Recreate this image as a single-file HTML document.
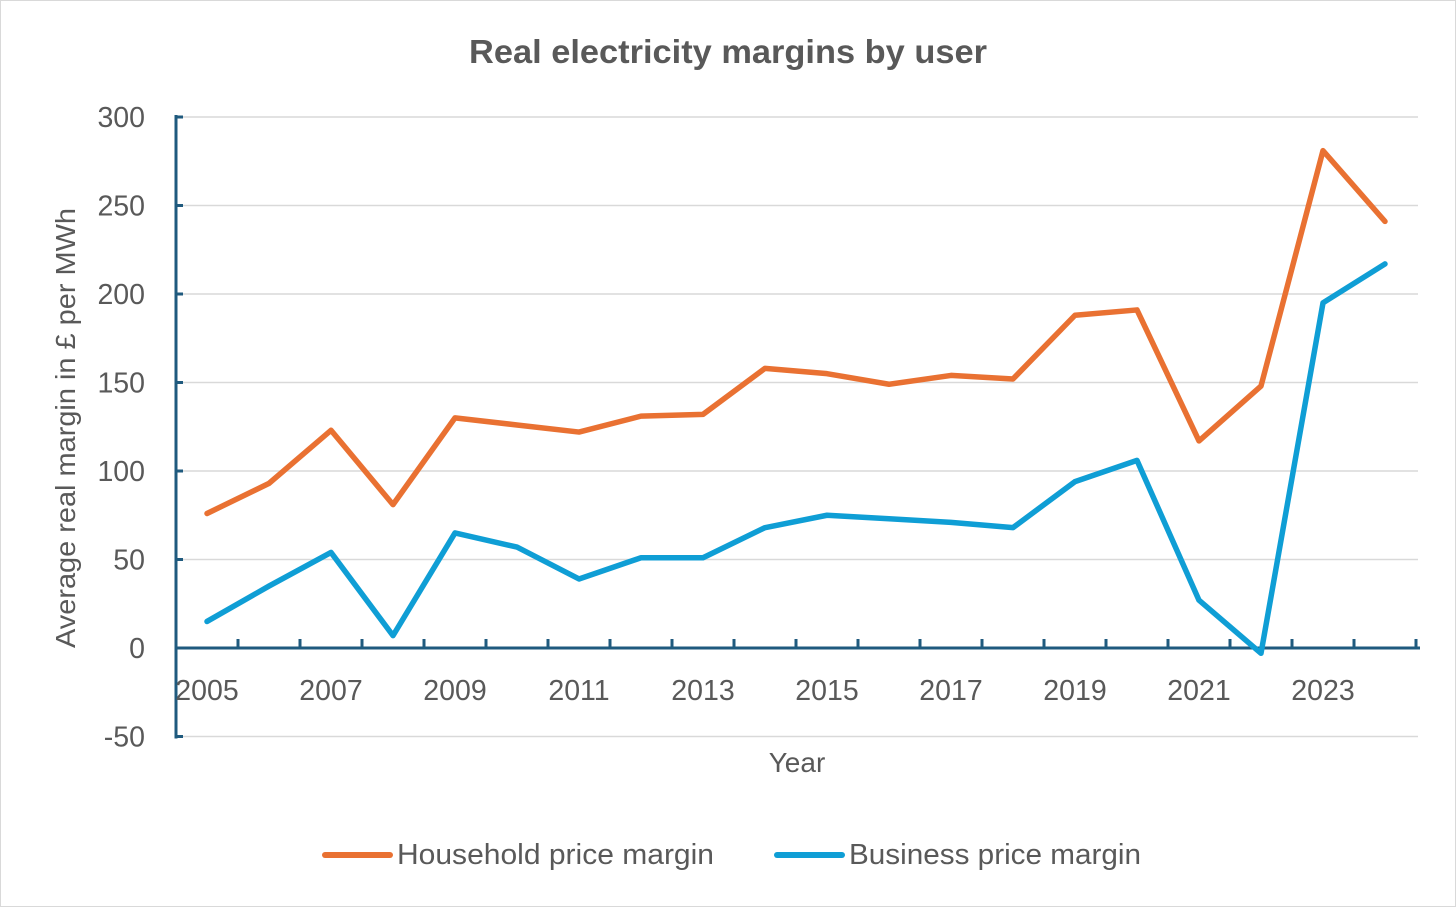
<!DOCTYPE html>
<html><head><meta charset="utf-8"><style>
body{margin:0;background:#fff}
svg{display:block;font-family:"Liberation Sans",sans-serif}
</style></head><body>
<svg width="1456" height="907" viewBox="0 0 1456 907">
<rect x="0.5" y="0.5" width="1455" height="906" fill="#fff" stroke="#d9d9d9"/>
<text x="469" y="63" textLength="518" lengthAdjust="spacingAndGlyphs" font-size="33" font-weight="bold" fill="#595959">Real electricity margins by user</text>
<g id="grid"></g>
<g id="axes"></g>
<g id="series"></g>
<text transform="translate(75,428) rotate(-90)" text-anchor="middle" textLength="440" lengthAdjust="spacingAndGlyphs" font-size="28" fill="#595959">Average real margin in £ per MWh</text>
<text x="797" y="772" text-anchor="middle" font-size="28" fill="#595959">Year</text>
<g>
<line x1="325" y1="855" x2="390" y2="855" stroke="#E97132" stroke-width="6" stroke-linecap="round"/>
<text x="397" y="864" textLength="317" lengthAdjust="spacingAndGlyphs" font-size="29" fill="#595959">Household price margin</text>
<line x1="777" y1="855" x2="842" y2="855" stroke="#0F9ED5" stroke-width="6" stroke-linecap="round"/>
<text x="849" y="864" textLength="292" lengthAdjust="spacingAndGlyphs" font-size="29" fill="#595959">Business price margin</text>
</g>
</svg>
<script>
const years=[2005,2006,2007,2008,2009,2010,2011,2012,2013,2014,2015,2016,2017,2018,2019,2020,2021,2022,2023,2024];
const household=[76,93,123,81,130,126,122,131,132,158,155,149,154,152,188,191,117,148,281,241];
const business=[15,35,54,7,65,57,39,51,51,68,75,73,71,68,94,106,27,-3,195,217];
const yTicks=[-50,0,50,100,150,200,250,300];
const NS="http://www.w3.org/2000/svg";
const X0=176,STEP=62,XEND=1418;
function xPos(i){return X0+STEP/2+STEP*i;}
function yPos(v){return 648-v*1.77;}
function mk(tag,attrs,parent){const e=document.createElementNS(NS,tag);for(const k in attrs)e.setAttribute(k,attrs[k]);parent.appendChild(e);return e;}
const grid=document.getElementById('grid'),axes=document.getElementById('axes'),series=document.getElementById('series');
yTicks.forEach(t=>{
  const y=yPos(t);
  const g=mk('line',{x1:X0,x2:XEND,y1:y,y2:y,stroke:'#d9d9d9','stroke-width':1.5},grid);
  
  
  const tk=mk('line',{x1:X0,x2:X0+7,y1:y,y2:y,stroke:'#1F5A7E','stroke-width':3},axes);
  
  
  const lb=mk('text',{x:145,y:y+10,'text-anchor':'end','font-size':28.5,fill:'#595959'},axes);
  lb.textContent=t;
  
  
});
const ya=mk('line',{x1:X0,x2:X0,y1:yPos(300)-2,y2:yPos(-50)+2,stroke:'#1F5A7E','stroke-width':3},axes);


const xa=mk('line',{x1:X0,x2:XEND+2,y1:yPos(0),y2:yPos(0),stroke:'#1F5A7E','stroke-width':3},axes);


for(let i=1;i<=years.length;i++){
  const x=X0+STEP*i;
  const tk=mk('line',{x1:x,x2:x,y1:yPos(0),y2:yPos(0)-9,stroke:'#1F5A7E','stroke-width':3},axes);
  
  
}
years.forEach((yr,i)=>{
  if(i%2)return;
  const lb=mk('text',{x:xPos(i),y:700,'text-anchor':'middle','font-size':28.5,fill:'#595959'},axes);
  lb.textContent=yr;
  
  
});
function line(vals,color,name){
  const p=mk('polyline',{points:vals.map((v,i)=>xPos(i)+','+yPos(v)).join(' '),fill:'none',stroke:color,'stroke-width':5.5,'stroke-linejoin':'round','stroke-linecap':'round'},series);
  
  
}
line(household,'#E97132','household-line');
line(business,'#0F9ED5','business-line');
</script>
</body></html>
